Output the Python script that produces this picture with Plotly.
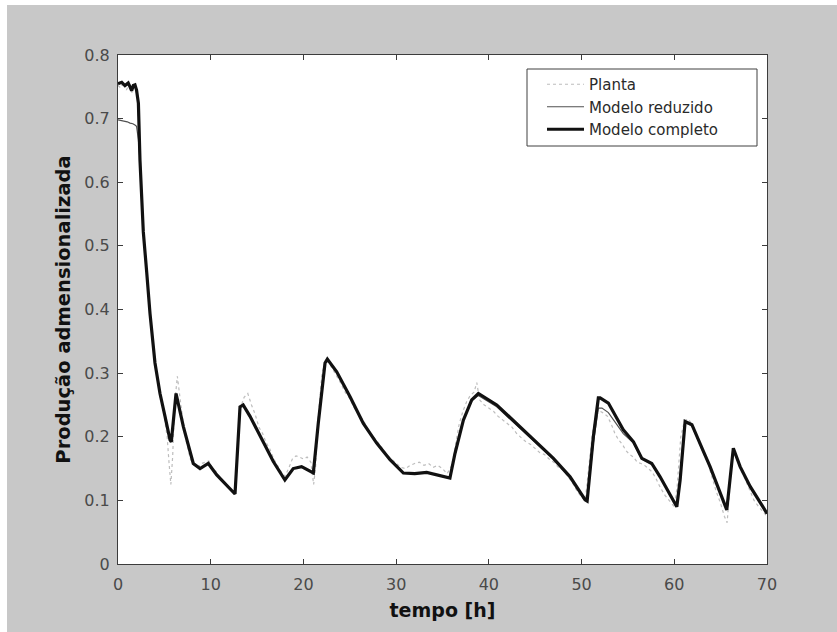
import plotly.graph_objects as go

# ---- data ----
complete_t = [0, 0.4, 0.75, 1.1, 1.3, 1.47, 1.65, 1.83, 2.0, 2.2, 2.37, 2.55, 2.73, 3.1, 3.45, 3.99,
              4.53, 5.07, 5.61, 5.75, 6.26, 7.05, 8.12, 8.85, 9.74, 10.65, 11.6, 12.62, 13.16, 13.5,
              14.24, 15.68, 16.75, 18.0, 18.9, 19.8, 21.07, 21.6, 22.33, 22.58, 23.59, 25.03, 26.46,
              27.9, 29.34, 30.78, 32.0, 33.3, 34.7, 35.8, 36.35, 37.25, 38.15, 38.87, 40.85, 44.09,
              46.96, 48.76, 50.38, 50.6, 51.27, 51.81, 52.0, 52.89, 54.5, 55.6, 56.5, 57.57, 58.47,
              60.27, 60.63, 61.17, 61.9, 63.14, 63.86, 65.66, 66.37, 67.1, 68.18, 69.98, 70]
complete_y = [0.755, 0.757, 0.752, 0.756, 0.750, 0.744, 0.752, 0.753, 0.745, 0.724, 0.635, 0.572,
              0.522, 0.458, 0.394, 0.316, 0.268, 0.232, 0.195, 0.192, 0.268, 0.216, 0.158, 0.150,
              0.158, 0.140, 0.126, 0.110, 0.247, 0.25, 0.232, 0.19, 0.161, 0.132, 0.150, 0.153,
              0.143, 0.221, 0.316, 0.322, 0.302, 0.263, 0.221, 0.19, 0.164, 0.143, 0.142, 0.144,
              0.139, 0.135, 0.174, 0.226, 0.258, 0.268, 0.25, 0.205, 0.166, 0.137, 0.101, 0.099,
              0.2, 0.261, 0.261, 0.253, 0.211, 0.192, 0.166, 0.158, 0.137, 0.09, 0.132, 0.224,
              0.219, 0.177, 0.153, 0.085, 0.182, 0.153, 0.122, 0.080, 0.079]

reduced_t = [0, 0.5, 1.0, 1.3, 1.6, 1.83, 2.0, 2.2, 2.37, 2.55, 2.73, 3.1, 3.45, 3.99,
             4.53, 5.07, 5.61, 5.75, 6.26, 7.05, 8.12, 8.85, 9.74, 10.65, 11.6, 12.62, 13.16, 13.5,
             14.24, 15.68, 16.75, 18.0, 18.9, 19.8, 21.07, 21.6, 22.33, 22.58, 23.59, 25.03, 26.46,
             27.9, 29.34, 30.78, 32.0, 33.3, 34.7, 35.8, 36.35, 37.25, 38.15, 38.87, 40.85, 44.09,
             46.96, 48.76, 50.38, 50.6, 51.27, 51.81, 52.2, 52.89, 54.5, 55.6, 56.5, 57.57, 58.47,
             60.27, 60.63, 61.17, 61.9, 63.14, 63.86, 65.66, 66.37, 67.1, 68.18, 69.98, 70]
reduced_y = [0.698, 0.697, 0.695, 0.693, 0.692, 0.690, 0.688, 0.667, 0.635, 0.572,
             0.522, 0.458, 0.394, 0.316, 0.268, 0.232, 0.195, 0.192, 0.268, 0.216, 0.158, 0.150,
             0.158, 0.140, 0.126, 0.110, 0.247, 0.25, 0.232, 0.19, 0.161, 0.132, 0.150, 0.153,
             0.143, 0.221, 0.316, 0.322, 0.302, 0.263, 0.221, 0.19, 0.164, 0.143, 0.142, 0.144,
             0.139, 0.135, 0.174, 0.226, 0.256, 0.265, 0.247, 0.203, 0.165, 0.136, 0.101, 0.099,
             0.19, 0.245, 0.245, 0.238, 0.205, 0.19, 0.165, 0.157, 0.137, 0.09, 0.132, 0.222,
             0.217, 0.176, 0.152, 0.085, 0.180, 0.152, 0.121, 0.080, 0.079]

planta_t = [0.0, 0.3, 0.6, 0.9, 1.2, 1.5, 1.8, 2.1, 2.4, 2.7, 3.0, 3.3, 3.6, 3.9, 4.2, 4.5, 4.8,
            5.1, 5.3, 5.5, 5.7, 5.9, 6.1, 6.4, 6.7, 7.0, 7.4, 7.8, 8.2, 8.6, 9.0, 9.4, 9.8, 10.2,
            10.6, 11.0, 11.4, 11.8, 12.2, 12.6, 12.9, 13.2, 13.6, 14.0, 14.4, 14.8, 15.2, 15.6,
            16.0, 16.4, 16.8, 17.2, 17.6, 18.0, 18.4, 18.8, 19.2, 19.6, 20.0, 20.4, 20.8, 21.1,
            21.3, 21.6, 22.0, 22.4, 22.8, 23.2, 23.6, 24.0, 24.5, 25.0, 25.5, 26.0, 26.5, 27.0,
            27.5, 28.0, 28.5, 29.0, 29.5, 30.0, 30.5, 31.0, 31.5, 32.0, 32.5, 33.0, 33.5, 34.0,
            34.5, 35.0, 35.5, 36.0, 36.4, 36.8, 37.2, 37.6, 38.0, 38.4, 38.7, 39.0, 39.5, 40.0,
            40.5, 41.0, 41.5, 42.0, 42.5, 43.0, 43.5, 44.0, 44.5, 45.0, 45.5, 46.0, 46.5, 47.0,
            47.5, 48.0, 48.5, 49.0, 49.5, 50.0, 50.4, 50.8, 51.2, 51.6, 52.0, 52.4, 52.8, 53.2,
            53.6, 54.0, 54.4, 54.8, 55.2, 55.6, 56.0, 56.4, 56.8, 57.2, 57.6, 58.0, 58.5, 59.0,
            59.5, 60.0, 60.3, 60.7, 61.1, 61.5, 61.9, 62.4, 62.8, 63.2, 63.6, 64.0, 64.5, 65.0,
            65.4, 65.7, 66.0, 66.3, 66.7, 67.1, 67.6, 68.1, 68.6, 69.1, 69.6, 70.0]
planta_y = [0.752, 0.748, 0.757, 0.745, 0.753, 0.741, 0.750, 0.735, 0.64, 0.53, 0.47, 0.42, 0.37,
            0.33, 0.30, 0.265, 0.25, 0.215, 0.20, 0.16, 0.125, 0.17, 0.25, 0.295, 0.26, 0.225,
            0.19, 0.165, 0.155, 0.152, 0.158, 0.16, 0.162, 0.150, 0.145, 0.135, 0.128, 0.122,
            0.117, 0.112, 0.18, 0.245, 0.262, 0.268, 0.25, 0.235, 0.215, 0.205, 0.19, 0.18,
            0.165, 0.155, 0.145, 0.138, 0.150, 0.165, 0.170, 0.168, 0.165, 0.168, 0.160, 0.125,
            0.15, 0.23, 0.30, 0.32, 0.315, 0.305, 0.295, 0.285, 0.27, 0.26, 0.245, 0.235, 0.225,
            0.21, 0.20, 0.192, 0.182, 0.172, 0.165, 0.158, 0.152, 0.15, 0.155, 0.158, 0.160,
            0.155, 0.158, 0.152, 0.155, 0.15, 0.142, 0.155, 0.19, 0.22, 0.24, 0.255, 0.265, 0.27,
            0.285, 0.258, 0.25, 0.245, 0.24, 0.232, 0.226, 0.22, 0.215, 0.205, 0.198, 0.192,
            0.188, 0.182, 0.175, 0.172, 0.165, 0.16, 0.152, 0.148, 0.138, 0.128, 0.115, 0.105,
            0.10, 0.15, 0.21, 0.235, 0.24, 0.237, 0.232, 0.22, 0.205, 0.195, 0.188, 0.178, 0.172,
            0.168, 0.16, 0.158, 0.155, 0.150, 0.145, 0.135, 0.12, 0.108, 0.098, 0.09, 0.12, 0.2,
            0.225, 0.228, 0.22, 0.2, 0.185, 0.172, 0.16, 0.14, 0.115, 0.095, 0.075, 0.065, 0.13,
            0.178, 0.17, 0.15, 0.135, 0.118, 0.10, 0.09, 0.082, 0.075]

series_names = ["Planta", "Modelo reduzido", "Modelo completo"]
x_ticks = [0, 10, 20, 30, 40, 50, 60, 70]
y_ticks = [0, 0.1, 0.2, 0.3, 0.4, 0.5, 0.6, 0.7, 0.8]
y_tick_text = ["0", "0.1", "0.2", "0.3", "0.4", "0.5", "0.6", "0.7", "0.8"]

FONT = "DejaVu Sans, Liberation Sans, Arial, sans-serif"
GRAY_BG = "#c8c8c8"

# plot-area geometry in pixels (used only to place paper-space decorations)
L, R, T, B = 118, 767, 55, 564
PW, PH = R - L, B - T
def px_x(p):
    return (p - L) / PW
def px_y(p):
    return (B - p) / PH

fig = go.Figure()
fig.add_trace(go.Scatter(x=planta_t, y=planta_y, mode="lines", name=series_names[0],
                         legendgroup="a",
                         line=dict(color="#bdbdbd", width=1.2, dash="3px,3px")))
fig.add_trace(go.Scatter(x=reduced_t, y=reduced_y, mode="lines", name=series_names[1],
                         legendgroup="b",
                         line=dict(color="#505050", width=1.2)))
fig.add_trace(go.Scatter(x=complete_t, y=complete_y, mode="lines", name=series_names[2],
                         legendgroup="c",
                         line=dict(color="#111111", width=3.2)))

axis_common = dict(showline=True, linecolor="#3c3c3c", linewidth=1, mirror="ticks",
                   ticks="inside", ticklen=5, tickcolor="#3c3c3c", showgrid=False,
                   zeroline=False, tickfont=dict(family=FONT, size=16, color="#4a4a4a"))

fig.update_layout(
    width=837, height=632,
    margin=dict(l=L, r=837 - R, t=T, b=632 - B),
    paper_bgcolor=GRAY_BG, plot_bgcolor="white",
    showlegend=True,
    legend=dict(x=px_x(542), y=px_y(68), xanchor="left", yanchor="top",
                bgcolor="rgba(0,0,0,0)", borderwidth=0,
                font=dict(family=FONT, size=15, color="#2a2a2a"),
                tracegroupgap=0, itemwidth=37),
    xaxis=dict(range=[0, 70], tickvals=x_ticks, ticktext=[str(v) for v in x_ticks],
               ticklabelstandoff=6,
               title=dict(text="<b>tempo [h]</b>", font=dict(family=FONT, size=19, color="#111111"),
                          standoff=10), **axis_common),
    yaxis=dict(range=[0, 0.8], tickvals=y_ticks, ticktext=y_tick_text,
               ticklabelstandoff=4,
               title=dict(text="<b>Produção admensionalizada</b>",
                          font=dict(family=FONT, size=19.5, color="#111111"), standoff=8),
               **axis_common),
    shapes=[
        dict(type="rect", xref="paper", yref="paper", x0=-0.4, x1=1.4,
             y0=px_y(5), y1=1.3, fillcolor="white", line=dict(width=0), layer="below"),
        dict(type="rect", xref="paper", yref="paper", x0=-0.4, x1=px_x(7),
             y0=-0.4, y1=1.3, fillcolor="white", line=dict(width=0), layer="below"),
        dict(type="rect", xref="paper", yref="paper", x0=px_x(527), x1=px_x(757),
             y0=px_y(146), y1=px_y(69), fillcolor="white",
             line=dict(color="#404040", width=1), layer="above"),
    ],
)

fig.write_html("out.html")
